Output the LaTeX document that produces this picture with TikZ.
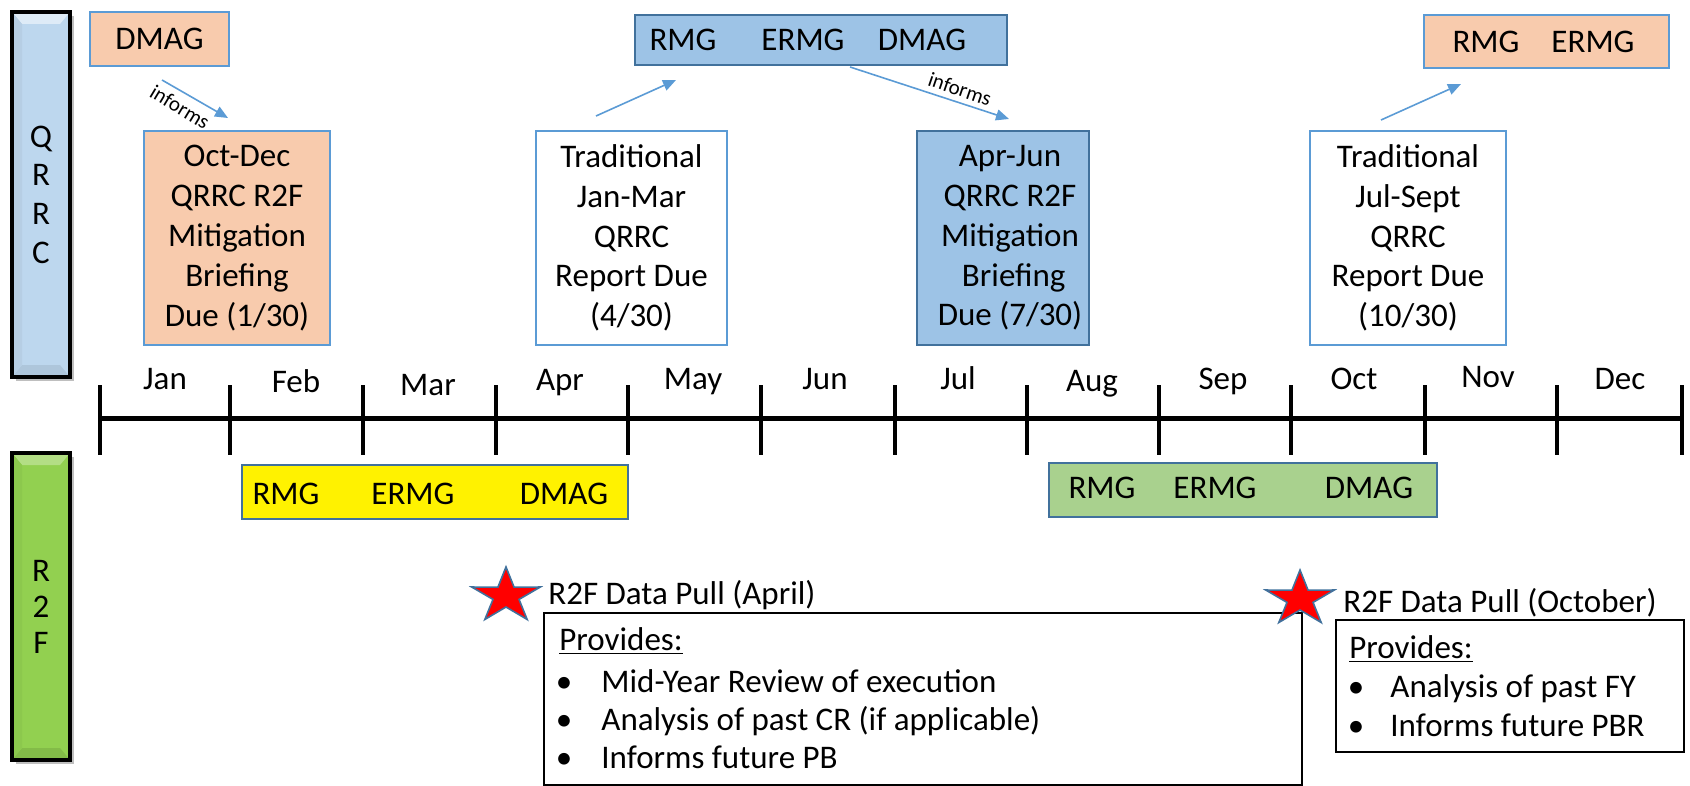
\documentclass[tikz,border=0pt]{standalone}
\usepackage{fontspec}
\setmainfont{Carlito}
\usetikzlibrary{arrows.meta,calc}
\definecolor{peach}{HTML}{F8CBAD}
\definecolor{bordblue}{HTML}{5B9BD5}
\definecolor{darkblue}{HTML}{41719C}
\definecolor{midblue}{HTML}{9DC3E6}
\definecolor{lightgreen}{HTML}{A9D18E}
\definecolor{barblue}{HTML}{BDD7EE}
\definecolor{bargreen}{HTML}{92D050}
\begin{document}
\begin{tikzpicture}[x=0.5pt,y=-0.5pt,
  mainfont/.style={font=\fontsize{16.5}{19.9}\selectfont},
  tallbox/.style={draw=bordblue, line width=1pt, inner sep=0pt, mainfont, align=center, minimum height=107pt},
  flatbox/.style={draw=bordblue, line width=1pt, inner sep=0pt, minimum height=26pt},
  arr/.style={draw=bordblue, line width=0.8pt, -{Triangle[length=6.5pt,width=5.5pt]}},
  informslbl/.style={font=\fontsize{10.5}{12}\selectfont, inner sep=0pt},
  month/.style={mainfont, anchor=base, inner sep=0pt},
  txt/.style={mainfont, anchor=base west, inner sep=0pt},
  ctxt/.style={mainfont, anchor=base, inner sep=0pt},
  tick/.style={line width=2pt, black},
  starsty/.style={fill=red, draw=darkblue, line width=0.8pt, line join=miter},
  pics/redstar/.style={code={
    \draw[starsty] (-90:36 and 29) -- (-54:13.7 and 11) -- (-18:36 and 29) -- (18:13.7 and 11)
      -- (54:36 and 29) -- (90:13.7 and 11) -- (126:36 and 29) -- (162:13.7 and 11)
      -- (198:36 and 29) -- (234:13.7 and 11) -- cycle;}}
]
\useasboundingbox (0,0) rectangle (1690,786);

% ---------- side bars ----------
% QRRC
\fill[black!25] (16,16) rectangle (74,381);
\fill[barblue] (12,12) rectangle (70,377);
\fill[white!50!barblue] (12,12) -- (70,12) -- (60,24) -- (22,24) -- cycle;
\fill[black!8!barblue] (12,377) -- (70,377) -- (60,365) -- (22,365) -- cycle;
\fill[black!4!barblue] (12,12) -- (22,24) -- (22,365) -- (12,377) -- cycle;
\node[draw=black, line width=1.8pt, minimum width=29pt, minimum height=182.5pt, inner sep=0pt,
  font=\fontsize{16.5}{19.35}\selectfont, align=center] (qrrc) at (41,194.5) {Q\\R\\R\\C};
% R2F
\fill[black!25] (16,457) rectangle (74,764);
\fill[bargreen] (12,453) rectangle (70,760);
\fill[white!30!bargreen] (12,453) -- (70,453) -- (60,465) -- (22,465) -- cycle;
\fill[black!10!bargreen] (12,760) -- (70,760) -- (60,748) -- (22,748) -- cycle;
\fill[black!4!bargreen] (12,453) -- (22,465) -- (22,748) -- (12,760) -- cycle;
\node[draw=black, line width=1.8pt, minimum width=29pt, minimum height=153.5pt, inner sep=0pt,
  font=\fontsize{16.5}{18}\selectfont, align=center] (rtwof) at (41,606.5) {R\\2\\F};

% ---------- top row ----------
\node[flatbox, fill=peach, minimum width=69.5pt, minimum height=27pt] (dmagtl) at (159.5,39) {};
\node[ctxt] (dmagtltxt) at (159.5,50) {DMAG};

\node[tallbox, fill=peach, minimum width=93pt] (octdec) at (237,238)
  {Oct-Dec\\QRRC R2F\\Mitigation\\Briefing\\Due (1/30)};

\node[tallbox, fill=white, minimum width=95.5pt] (tradone) at (631.5,238)
  {Traditional\\Jan-Mar\\QRRC\\Report Due\\(4/30)};

\node[flatbox, draw=darkblue, fill=midblue, minimum width=186pt, minimum height=25pt] (topmid) at (821,40) {};
\node[ctxt] (tmr) at (683,51) {RMG};
\node[ctxt] (tme) at (803,51) {ERMG};
\node[ctxt] (tmd) at (922,51) {DMAG};

\node[tallbox, draw=darkblue, fill=midblue, minimum width=86pt] (aprjun) at (1003,238) {};
\node[mainfont, align=center, inner sep=0pt] (aprjuntxt) at (1010,238)
  {Apr-Jun\\QRRC R2F\\Mitigation\\\ Briefing\\Due (7/30)};

\node[tallbox, fill=white, minimum width=98pt] (tradtwo) at (1408,238)
  {Traditional\\Jul-Sept\\QRRC\\Report Due\\(10/30)};

\node[flatbox, fill=peach, minimum width=122.5pt, minimum height=26.5pt] (topright) at (1546.5,41.5) {};
\node[ctxt] (trr) at (1486,53) {RMG};
\node[ctxt] (tre) at (1593,53) {ERMG};

% ---------- arrows ----------
\draw[arr] ([shift={(73,13)}]dmagtl.south west) -- ([shift={(85,-12)}]octdec.north west);
\node[informslbl, rotate=-31] (inf1) at (180,107) {informs};
\draw[arr] ([shift={(61,-14)}]tradone.north west) -- ([shift={(42,14)}]topmid.south west);
\draw[arr] ([shift={(216,1)}]topmid.south west) -- ([shift={(93,-11)}]aprjun.north west);
\node[informslbl, rotate=-19] (inf2) at (960,89) {informs};
\draw[arr] ([shift={(72,-10)}]tradtwo.north west) -- ([shift={(38,15)}]topright.south west);

% ---------- timeline ----------
\draw[line width=2.5pt] (100,418) -- (1682,418);
\foreach \x in {100,230,363,496,628,761,895,1027,1159,1291,1425,1557,1682}
  \draw[tick] (\x,385) -- (\x,455);
\node[month] (mjan) at (165,389) {Jan};
\node[month] (mfeb) at (296,392) {Feb};
\node[month] (mmar) at (428,395) {Mar};
\node[month] (mapr) at (560,390) {Apr};
\node[month] (mmay) at (693,389) {May};
\node[month] (mjun) at (825,389) {Jun};
\node[month] (mjul) at (958,389) {Jul};
\node[month] (maug) at (1092,391) {Aug};
\node[month] (msep) at (1223,389) {Sep};
\node[month] (moct) at (1354,389) {Oct};
\node[month] (mnov) at (1488,387) {Nov};
\node[month] (mdec) at (1620,389) {Dec};

% ---------- R2F row ----------
\node[flatbox, draw=darkblue, fill=yellow, minimum width=193pt, minimum height=27pt] (yellowbox) at (435,492) {};
\node[ctxt] (yr) at (286,504) {RMG};
\node[ctxt] (ye) at (413,504) {ERMG};
\node[ctxt] (yd) at (564,504) {DMAG};

\node[flatbox, draw=darkblue, fill=lightgreen, minimum width=194pt, minimum height=27pt] (greenbox) at (1243,490) {};
\node[ctxt] (gr) at (1102,498) {RMG};
\node[ctxt] (ge) at (1215,498) {ERMG};
\node[ctxt] (gd) at (1369,498) {DMAG};

% ---------- data pulls ----------
\pic at (506,596) {redstar};
\node[txt] (pullapr) at (548,604) {R2F Data Pull (April)};
\node[draw=black, line width=1pt, fill=white, minimum width=379pt, minimum height=86pt, inner sep=0pt] (provapr) at (923,699) {};
\node[txt] (pa0) at (559,650) {\underline{Provides:}};
\node[ctxt] (pab1) at (564,692) {•};
\node[txt] (pa1) at (601,692) {Mid-Year Review of execution};
\node[ctxt] (pab2) at (564,730) {•};
\node[txt] (pa2) at (601,730) {Analysis of past CR (if applicable)};
\node[ctxt] (pab3) at (564,768) {•};
\node[txt] (pa3) at (601,768) {Informs future PB};

\pic at (1300,599) {redstar};
\node[txt] (pulloct) at (1343,612) {R2F Data Pull (October)};
\node[draw=black, line width=1pt, fill=white, minimum width=174pt, minimum height=66pt, inner sep=0pt] (provoct) at (1510,686) {};
\node[txt] (po0) at (1349,658) {\underline{Provides:}};
\node[ctxt] (pob1) at (1356,697) {•};
\node[txt] (po1) at (1390,697) {Analysis of past FY};
\node[ctxt] (pob2) at (1356,736) {•};
\node[txt] (po2) at (1390,736) {Informs future PBR};
\end{tikzpicture}
\end{document}
